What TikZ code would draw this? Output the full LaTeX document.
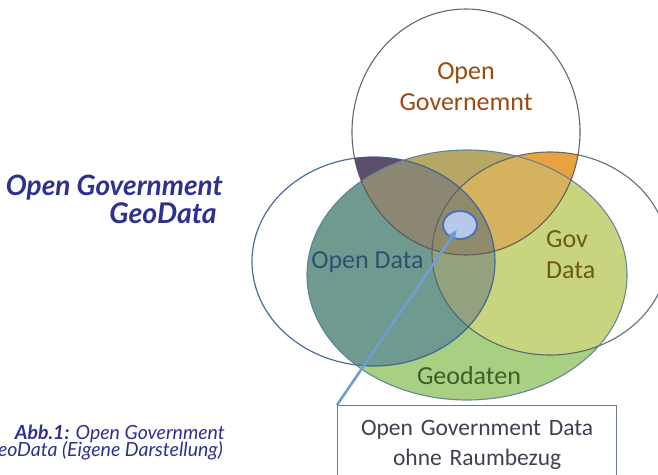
\documentclass[tikz,border=0pt]{standalone}
\usepackage{fontspec}
\setmainfont{Carlito}
\newfontfamily\gillfont{Lato}
\usetikzlibrary{shapes.geometric,arrows.meta}
\definecolor{cPurple}{HTML}{5B4D6B}
\definecolor{cOrange}{HTML}{E9A33E}
\definecolor{cGreen}{HTML}{A8D083}
\definecolor{cTeal}{HTML}{6E9A8F}
\definecolor{cYel}{HTML}{C8D47E}
\definecolor{cLR}{HTML}{93A27E}
\definecolor{cKhaki}{HTML}{B6A766}
\definecolor{cTL}{HTML}{8B8772}
\definecolor{cTR}{HTML}{D5B35E}
\definecolor{cTLR}{HTML}{8F8B6A}
\definecolor{cTline}{HTML}{5D5555}
\definecolor{cLline}{HTML}{3A5E96}
\definecolor{cRline}{HTML}{50606A}
\definecolor{cGline}{HTML}{5B7E9C}
\definecolor{cTitle}{HTML}{2E3192}
\definecolor{cOG}{HTML}{9B4A12}
\definecolor{cOD}{HTML}{2F5070}
\definecolor{cGD}{HTML}{6E5A12}
\definecolor{cGeo}{HTML}{3B5F2A}
\definecolor{cBoxText}{HTML}{404050}
\definecolor{cBoxLine}{HTML}{6A7890}
\definecolor{cConn}{HTML}{6F9FD0}
\definecolor{cDotFill}{HTML}{B8C8EC}
\definecolor{cDotLine}{HTML}{4D72B0}
\def\Tshape{(466,132) ellipse [x radius=114, y radius=123]}
\def\Lshape{(373.5,261.5) ellipse [x radius=121.5, y radius=104.5]}
\def\Rshape{(550,253.5) ellipse [x radius=118, y radius=101.5]}
\def\Gshape{(467,275) ellipse [x radius=160, y radius=125]}
\begin{document}
\begin{tikzpicture}[x=1pt,y=-1pt,
  lbl/.style={inner sep=0pt, anchor=base, font=\fontsize{26}{30}\selectfont},
  titlest/.style={inner sep=0pt, anchor=base east, text=cTitle, font=\gillfont\bfseries\itshape\fontsize{28}{32}\selectfont},
  captst/.style={inner sep=0pt, anchor=base east, text=cTitle, font=\gillfont\itshape\fontsize{19.5}{23}\selectfont},
  boxst/.style={draw=cBoxLine, line width=1.3pt, fill=white, text=cBoxText, inner xsep=0pt, inner ysep=15pt,
    text width=279pt, align=center, anchor=north west, font=\fontsize{23.5}{30}\selectfont},
  dotst/.style={ellipse, draw=cDotLine, line width=2pt, fill=cDotFill, minimum width=34pt, minimum height=28pt, inner sep=0pt},
  conn/.style={draw=cConn, line width=2.6pt, -{Stealth[length=10pt,width=9pt]}, shorten >=6pt}]
\useasboundingbox (0,0) rectangle (658,474);
\fill[white] (0,0) rectangle (658,474);
% regions outside Geodaten
\begin{scope}
  \clip \Tshape;
  \fill[cPurple] \Lshape;
  \fill[cOrange] \Rshape;
\end{scope}
\fill[cGreen] \Gshape;
\begin{scope}
  \clip \Gshape;
  \fill[cTeal] \Lshape;
  \fill[cYel] \Rshape;
  \begin{scope}
    \clip \Lshape;
    \fill[cLR] \Rshape;
  \end{scope}
  \begin{scope}
    \clip \Tshape;
    \fill[cKhaki] \Tshape;
    \fill[cTL] \Lshape;
    \fill[cTR] \Rshape;
    \clip \Lshape;
    \fill[cTLR] \Rshape;
  \end{scope}
\end{scope}
% outlines
\draw[cLline, line width=1.2pt, draw opacity=0.9] \Lshape;
\draw[cRline, line width=1.1pt, draw opacity=0.9] \Rshape;
\draw[cGline, line width=1.1pt, draw opacity=0.9] \Gshape;
\draw[cTline, line width=1.1pt, draw opacity=0.9] \Tshape;
% labels
\node[lbl, text=cOG] (og1) at (466,79) {Open};
\node[lbl, text=cOG] (og2) at (466,110) {Governemnt};
\node[lbl, text=cOD] (odt) at (367.5,268) {Open Data};
\node[lbl, anchor=base west, text=cGD] (gd1) at (546,247) {Gov};
\node[lbl, anchor=base west, text=cGD] (gd2) at (546,278) {Data};
\node[lbl, text=cGeo] (geo) at (469,384) {Geodaten};
% left texts
\node[titlest] (t1) at (223,195) {Open Government};
\node[titlest, font=\gillfont\bfseries\itshape\fontsize{28.5}{32}\selectfont] (t2) at (217,223) {GeoData};
\node[captst] (c1) at (225,439) {\bfseries Abb.1:\mdseries{} Open Government};
\node[captst] (c2) at (223,456.5) {GeoData (Eigene Darstellung)};
% dot, box, connector
\node[dotst] (od) at (460,225) {};
\node[boxst] (box) at (337,405) {Open Government Data\\ohne Raumbezug};
\draw[conn] (box.north west) -- (od.center);
\end{tikzpicture}
\end{document}
